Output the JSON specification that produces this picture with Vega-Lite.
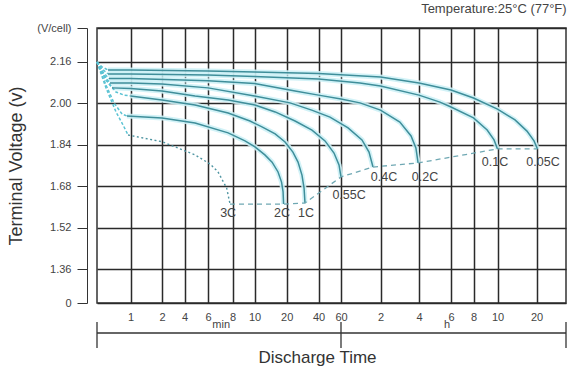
{
  "$schema": "https://vega.github.io/schema/vega-lite/v6.json",
  "width": 469,
  "height": 275,
  "autosize": {"type": "none"},
  "padding": {"left": 97, "top": 28, "right": 4, "bottom": 66},
  "background": "#ffffff",
  "title": {"text": "Temperature:25°C (77°F)", "anchor": "end", "fontSize": 13, "font": "Liberation Sans", "fontWeight": "normal", "color": "#444444", "offset": 6},
  "config": {"view": {"stroke": "#333333", "strokeWidth": 1.5}, "font": "Liberation Sans"},
  "datasets": {
    "curves": [
      {"rate": "0.05C", "part": "fan", "t": 0.5, "v": 2.160},
      {"rate": "0.05C", "part": "fan", "t": 0.555, "v": 2.141},
      {"rate": "0.05C", "part": "fan", "t": 0.628, "v": 2.129},
      {"rate": "0.05C", "part": "main", "t": 0.628, "v": 2.129},
      {"rate": "0.05C", "part": "main", "t": 1, "v": 2.129},
      {"rate": "0.05C", "part": "main", "t": 6, "v": 2.125},
      {"rate": "0.05C", "part": "main", "t": 10, "v": 2.121},
      {"rate": "0.05C", "part": "main", "t": 40, "v": 2.116},
      {"rate": "0.05C", "part": "main", "t": 120, "v": 2.102},
      {"rate": "0.05C", "part": "main", "t": 240, "v": 2.079},
      {"rate": "0.05C", "part": "main", "t": 360, "v": 2.052},
      {"rate": "0.05C", "part": "main", "t": 480, "v": 2.021},
      {"rate": "0.05C", "part": "main", "t": 600, "v": 1.978},
      {"rate": "0.05C", "part": "main", "t": 819, "v": 1.936},
      {"rate": "0.05C", "part": "main", "t": 1013, "v": 1.893},
      {"rate": "0.05C", "part": "main", "t": 1148, "v": 1.855},
      {"rate": "0.05C", "part": "main", "t": 1216, "v": 1.824},

      {"rate": "0.1C", "part": "fan", "t": 0.5, "v": 2.160},
      {"rate": "0.1C", "part": "fan", "t": 0.555, "v": 2.133},
      {"rate": "0.1C", "part": "fan", "t": 0.628, "v": 2.114},
      {"rate": "0.1C", "part": "main", "t": 0.628, "v": 2.114},
      {"rate": "0.1C", "part": "main", "t": 1, "v": 2.114},
      {"rate": "0.1C", "part": "main", "t": 6, "v": 2.110},
      {"rate": "0.1C", "part": "main", "t": 10, "v": 2.104},
      {"rate": "0.1C", "part": "main", "t": 40, "v": 2.094},
      {"rate": "0.1C", "part": "main", "t": 83.7, "v": 2.079},
      {"rate": "0.1C", "part": "main", "t": 120, "v": 2.067},
      {"rate": "0.1C", "part": "main", "t": 240, "v": 2.032},
      {"rate": "0.1C", "part": "main", "t": 313, "v": 2.005},
      {"rate": "0.1C", "part": "main", "t": 360, "v": 1.986},
      {"rate": "0.1C", "part": "main", "t": 480, "v": 1.944},
      {"rate": "0.1C", "part": "main", "t": 545, "v": 1.897},
      {"rate": "0.1C", "part": "main", "t": 581, "v": 1.859},
      {"rate": "0.1C", "part": "main", "t": 600, "v": 1.824},

      {"rate": "0.2C", "part": "fan", "t": 0.5, "v": 2.160},
      {"rate": "0.2C", "part": "fan", "t": 0.566, "v": 2.121},
      {"rate": "0.2C", "part": "fan", "t": 0.641, "v": 2.096},
      {"rate": "0.2C", "part": "main", "t": 0.641, "v": 2.096},
      {"rate": "0.2C", "part": "main", "t": 1, "v": 2.096},
      {"rate": "0.2C", "part": "main", "t": 6, "v": 2.088},
      {"rate": "0.2C", "part": "main", "t": 10, "v": 2.077},
      {"rate": "0.2C", "part": "main", "t": 24, "v": 2.048},
      {"rate": "0.2C", "part": "main", "t": 40, "v": 2.032},
      {"rate": "0.2C", "part": "main", "t": 60, "v": 2.017},
      {"rate": "0.2C", "part": "main", "t": 83.7, "v": 2.002},
      {"rate": "0.2C", "part": "main", "t": 120, "v": 1.974},
      {"rate": "0.2C", "part": "main", "t": 170, "v": 1.928},
      {"rate": "0.2C", "part": "main", "t": 208, "v": 1.874},
      {"rate": "0.2C", "part": "main", "t": 227, "v": 1.828},
      {"rate": "0.2C", "part": "main", "t": 236, "v": 1.770},

      {"rate": "0.4C", "part": "fan", "t": 0.5, "v": 2.160},
      {"rate": "0.4C", "part": "fan", "t": 0.578, "v": 2.110},
      {"rate": "0.4C", "part": "fan", "t": 0.654, "v": 2.079},
      {"rate": "0.4C", "part": "main", "t": 0.654, "v": 2.079},
      {"rate": "0.4C", "part": "main", "t": 1, "v": 2.079},
      {"rate": "0.4C", "part": "main", "t": 2, "v": 2.075},
      {"rate": "0.4C", "part": "main", "t": 6, "v": 2.060},
      {"rate": "0.4C", "part": "main", "t": 10, "v": 2.029},
      {"rate": "0.4C", "part": "main", "t": 21.5, "v": 2.002},
      {"rate": "0.4C", "part": "main", "t": 34.5, "v": 1.974},
      {"rate": "0.4C", "part": "main", "t": 49.2, "v": 1.947},
      {"rate": "0.4C", "part": "main", "t": 67.9, "v": 1.905},
      {"rate": "0.4C", "part": "main", "t": 86.7, "v": 1.859},
      {"rate": "0.4C", "part": "main", "t": 98.1, "v": 1.812},
      {"rate": "0.4C", "part": "main", "t": 105.2, "v": 1.754},

      {"rate": "0.55C", "part": "fan", "t": 0.5, "v": 2.160},
      {"rate": "0.55C", "part": "fan", "t": 0.590, "v": 2.098},
      {"rate": "0.55C", "part": "fan", "t": 0.682, "v": 2.060},
      {"rate": "0.55C", "part": "main", "t": 0.682, "v": 2.060},
      {"rate": "0.55C", "part": "main", "t": 1, "v": 2.058},
      {"rate": "0.55C", "part": "main", "t": 2, "v": 2.048},
      {"rate": "0.55C", "part": "main", "t": 4.8, "v": 2.029},
      {"rate": "0.55C", "part": "main", "t": 7.6, "v": 2.013},
      {"rate": "0.55C", "part": "main", "t": 10.1, "v": 1.994},
      {"rate": "0.55C", "part": "main", "t": 15.6, "v": 1.967},
      {"rate": "0.55C", "part": "main", "t": 24, "v": 1.932},
      {"rate": "0.55C", "part": "main", "t": 34.7, "v": 1.897},
      {"rate": "0.55C", "part": "main", "t": 45, "v": 1.855},
      {"rate": "0.55C", "part": "main", "t": 52.9, "v": 1.808},
      {"rate": "0.55C", "part": "main", "t": 57.9, "v": 1.762},
      {"rate": "0.55C", "part": "main", "t": 60, "v": 1.716},

      {"rate": "1C", "part": "fan", "t": 0.5, "v": 2.160},
      {"rate": "1C", "part": "fan", "t": 0.602, "v": 2.090},
      {"rate": "1C", "part": "fan", "t": 0.741, "v": 2.044},
      {"rate": "1C", "part": "fan", "t": 0.874, "v": 2.032},
      {"rate": "1C", "part": "fan", "t": 1, "v": 2.029},
      {"rate": "1C", "part": "main", "t": 1, "v": 2.029},
      {"rate": "1C", "part": "main", "t": 2, "v": 2.013},
      {"rate": "1C", "part": "main", "t": 4.8, "v": 1.994},
      {"rate": "1C", "part": "main", "t": 7.6, "v": 1.963},
      {"rate": "1C", "part": "main", "t": 9.55, "v": 1.932},
      {"rate": "1C", "part": "main", "t": 11.75, "v": 1.909},
      {"rate": "1C", "part": "main", "t": 15.6, "v": 1.882},
      {"rate": "1C", "part": "main", "t": 19.3, "v": 1.851},
      {"rate": "1C", "part": "main", "t": 22.9, "v": 1.812},
      {"rate": "1C", "part": "main", "t": 25.6, "v": 1.773},
      {"rate": "1C", "part": "main", "t": 27.9, "v": 1.723},
      {"rate": "1C", "part": "main", "t": 29.2, "v": 1.673},
      {"rate": "1C", "part": "main", "t": 29.8, "v": 1.615},

      {"rate": "2C", "part": "fan", "t": 0.5, "v": 2.160},
      {"rate": "2C", "part": "fan", "t": 0.602, "v": 2.071},
      {"rate": "2C", "part": "fan", "t": 0.711, "v": 2.002},
      {"rate": "2C", "part": "fan", "t": 0.839, "v": 1.959},
      {"rate": "2C", "part": "fan", "t": 0.930, "v": 1.951},
      {"rate": "2C", "part": "main", "t": 0.930, "v": 1.951},
      {"rate": "2C", "part": "main", "t": 2, "v": 1.944},
      {"rate": "2C", "part": "main", "t": 4.8, "v": 1.924},
      {"rate": "2C", "part": "main", "t": 7.6, "v": 1.886},
      {"rate": "2C", "part": "main", "t": 9.08, "v": 1.855},
      {"rate": "2C", "part": "main", "t": 10.1, "v": 1.832},
      {"rate": "2C", "part": "main", "t": 12.5, "v": 1.801},
      {"rate": "2C", "part": "main", "t": 14.6, "v": 1.773},
      {"rate": "2C", "part": "main", "t": 16.6, "v": 1.735},
      {"rate": "2C", "part": "main", "t": 17.9, "v": 1.696},
      {"rate": "2C", "part": "main", "t": 18.5, "v": 1.658},
      {"rate": "2C", "part": "main", "t": 18.7, "v": 1.611},

      {"rate": "3C", "part": "fan", "t": 0.5, "v": 2.160},
      {"rate": "3C", "part": "fan", "t": 0.602, "v": 2.060},
      {"rate": "3C", "part": "fan", "t": 0.741, "v": 1.967},
      {"rate": "3C", "part": "fan", "t": 0.856, "v": 1.917},
      {"rate": "3C", "part": "fan", "t": 0.950, "v": 1.878},
      {"rate": "3C", "part": "main", "t": 0.950, "v": 1.878},
      {"rate": "3C", "part": "main", "t": 2, "v": 1.852},
      {"rate": "3C", "part": "main", "t": 4.8, "v": 1.801},
      {"rate": "3C", "part": "main", "t": 6.14, "v": 1.766},
      {"rate": "3C", "part": "main", "t": 6.74, "v": 1.736},
      {"rate": "3C", "part": "main", "t": 7.47, "v": 1.673},
      {"rate": "3C", "part": "main", "t": 7.77, "v": 1.611}
    ],
    "cutoff": [
      {"t": 7.77, "v": 1.611},
      {"t": 18.7, "v": 1.611},
      {"t": 29.8, "v": 1.615},
      {"t": 60, "v": 1.716},
      {"t": 105.2, "v": 1.754},
      {"t": 236, "v": 1.770},
      {"t": 600, "v": 1.824},
      {"t": 1216, "v": 1.824}
    ],
    "labels": [
      {"label": "3C", "t": 7.6, "v": 1.576},
      {"label": "2C", "t": 18.1, "v": 1.576},
      {"label": "1C", "t": 30.5, "v": 1.576},
      {"label": "0.55C", "t": 69.1, "v": 1.646},
      {"label": "0.4C", "t": 127.8, "v": 1.716},
      {"label": "0.2C", "t": 259, "v": 1.716},
      {"label": "0.1C", "t": 586, "v": 1.773},
      {"label": "0.05C", "t": 1312, "v": 1.773}
    ],
    "span": [{"t": 0.5, "t2": 1800, "v": 1.1127}],
    "spanTicks": [
      {"t": 0.5, "v": 1.1552, "v2": 1.0547},
      {"t": 60, "v": 1.1552, "v2": 1.0547},
      {"t": 1800, "v": 1.1552, "v2": 1.0547}
    ],
    "units": [{"label": "min", "t": 7.0, "v": 1.1436}, {"label": "h", "t": 342, "v": 1.1436}]
  },
  "encoding": {
    "x": {
      "field": "t",
      "type": "quantitative",
      "scale": {
        "type": "log",
        "nice": false,
        "domain": [0.5, 1, 2, 4, 6, 8, 10, 20, 40, 60, 120, 240, 360, 480, 600, 1200, 1800],
        "range": [0, 33.5, 65, 87.5, 111, 135.5, 157.5, 189.7, 221.5, 244, 283.5, 322, 354, 376.5, 400.5, 439.5, 469]
      },
      "axis": {
        "values": [1, 2, 4, 6, 8, 10, 20, 40, 60, 120, 240, 360, 480, 600, 1200],
        "labelExpr": "datum.value <= 60 ? format(datum.value, 'd') : format(datum.value / 60, 'd')",
        "ticks": false,
        "tickSize": 0,
        "domain": false,
        "labelPadding": 8,
        "labelFontSize": 11,
        "labelColor": "#444444",
        "labelFont": "Liberation Sans",
        "labelFlush": false,
        "labelOverlap": false,
        "grid": true,
        "gridColor": "#2a2a2a",
        "gridWidth": 1.5,
        "title": "Discharge Time",
        "titleFont": "Liberation Sans",
        "titleFontSize": 17,
        "titleFontWeight": "normal",
        "titleColor": "#333333",
        "titlePadding": 27,
        "titleX": 220
      }
    },
    "y": {
      "field": "v",
      "type": "quantitative",
      "scale": {"domain": [1.2286, 2.2914], "nice": false, "zero": false},
      "axis": {
        "values": [1.2286, 1.36, 1.52, 1.68, 1.84, 2.0, 2.16, 2.2914],
        "labelExpr": "datum.value < 1.3 ? '0' : (datum.value > 2.25 ? '(V/cell)' : format(datum.value, '.2f'))",
        "offset": 10,
        "tickSize": 10,
        "tickColor": "#333333",
        "domainColor": "#333333",
        "labelPadding": 6,
        "labelFontSize": 11,
        "labelColor": "#444444",
        "labelFont": "Liberation Sans",
        "labelFlush": false,
        "labelOverlap": false,
        "grid": true,
        "gridColor": "#2a2a2a",
        "gridWidth": 1.5,
        "title": "Terminal Voltage (v)",
        "titleFont": "Liberation Sans",
        "titleFontSize": 18,
        "titleFontWeight": "normal",
        "titleColor": "#333333",
        "titlePadding": 11
      }
    }
  },
  "layer": [
    {
      "data": {"name": "curves"},
      "transform": [{"filter": "datum.part == 'main' && datum.rate != '3C'"}],
      "mark": {"type": "line", "color": "#cdf1f6", "strokeWidth": 5, "opacity": 0.9},
      "encoding": {"detail": {"field": "rate"}}
    },
    {
      "data": {"name": "curves"},
      "transform": [{"filter": "datum.part == 'fan'"}],
      "mark": {"type": "line", "color": "#5bc3d3", "strokeWidth": 1.5, "strokeDash": [3, 2]},
      "encoding": {"detail": {"field": "rate"}}
    },
    {
      "data": {"name": "curves"},
      "transform": [{"filter": "datum.part == 'main' && datum.rate != '3C'"}],
      "mark": {"type": "line", "color": "#3f8e9a", "strokeWidth": 1.5},
      "encoding": {"detail": {"field": "rate"}}
    },
    {
      "data": {"name": "curves"},
      "transform": [{"filter": "datum.part == 'main' && datum.rate == '3C'"}],
      "mark": {"type": "line", "color": "#4f95a2", "strokeWidth": 1.4, "strokeDash": [2, 2.5]},
      "encoding": {"detail": {"field": "rate"}}
    },
    {
      "data": {"name": "cutoff"},
      "mark": {"type": "line", "color": "#6fa8b3", "strokeWidth": 1.3, "strokeDash": [5, 4]},
      "encoding": {}
    },
    {
      "data": {"name": "labels"},
      "mark": {"type": "text", "fontSize": 12.5, "color": "#444444", "font": "Liberation Sans", "align": "center", "baseline": "middle"},
      "encoding": {"text": {"field": "label"}}
    },
    {
      "data": {"name": "span"},
      "mark": {"type": "rule", "color": "#333333", "strokeWidth": 1.3, "clip": false},
      "encoding": {"x2": {"field": "t2"}}
    },
    {
      "data": {"name": "spanTicks"},
      "mark": {"type": "rule", "color": "#333333", "strokeWidth": 1.3, "clip": false},
      "encoding": {"y2": {"field": "v2"}}
    },
    {
      "data": {"name": "units"},
      "mark": {"type": "text", "fontSize": 11, "color": "#444444", "font": "Liberation Sans", "align": "center", "baseline": "middle", "clip": false},
      "encoding": {"text": {"field": "label"}}
    }
  ]
}
